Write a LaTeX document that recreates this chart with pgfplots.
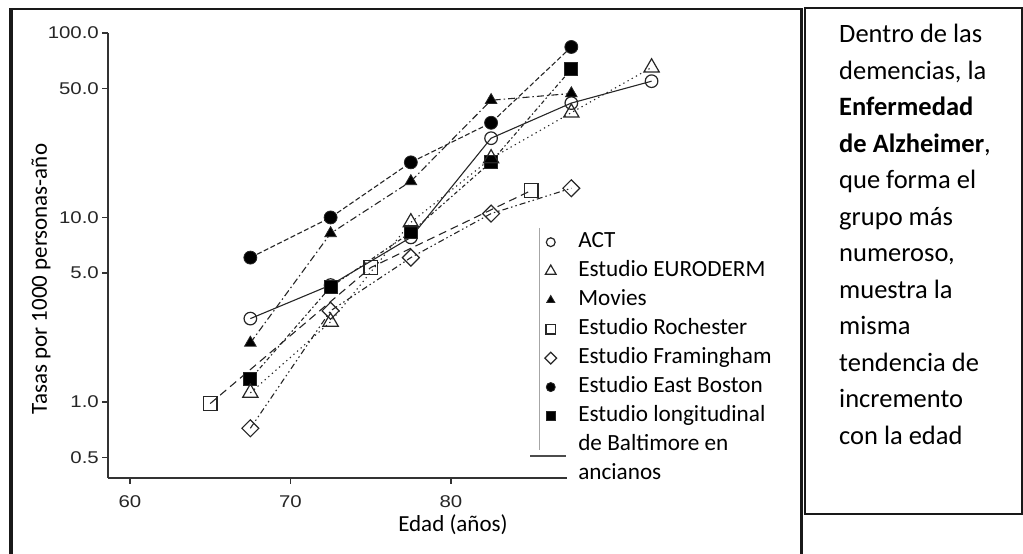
\documentclass[border=0pt]{standalone}
\usepackage{fontspec}
\setmainfont{Carlito}
\newfontfamily\tickfont{Liberation Sans}
\usepackage{graphicx}
\usepackage{pgfplots}
\pgfplotsset{compat=1.18}
\newcommand\sx[1]{\scalebox{1.2}[1]{#1}}

\tikzset{
 sACT/.style={black!85, line width=1.1bp, solid, mark=o, mark size=6.3bp, mark options={solid, fill=white, line width=1.2bp}},
 sEUR/.style={black!85, line width=1.1bp, dash pattern=on 1.3bp off 3.5bp, mark=triangle, mark size=8.8bp, mark options={solid, fill=white, line width=1.2bp}},
 sMOV/.style={black!85, line width=1.1bp, dash pattern=on 7bp off 3bp on 1.5bp off 3bp, mark=triangle*, mark size=6.7bp, mark options={solid, fill=black, line width=0.8bp}},
 sROC/.style={black!85, line width=1.1bp, dash pattern=on 8bp off 5bp, mark=square, mark size=6.8bp, mark options={solid, fill=white, line width=1.3bp}},
 sFRA/.style={black!85, line width=1.1bp, dash pattern=on 6bp off 3bp on 1.5bp off 3bp on 1.5bp off 3bp, mark=square, mark size=6bp, mark options={solid, rotate=45, fill=white, line width=1.2bp}},
 sEB/.style={black!85, line width=1.1bp, dash pattern=on 5bp off 2.5bp, mark=*, mark size=6.5bp, mark options={solid, fill=black, line width=0.8bp}},
 sBAL/.style={black!85, line width=1.1bp, dash pattern=on 1.5bp off 2.5bp on 4bp off 2.5bp, mark=square*, mark size=6.5bp, mark options={solid, fill=black, line width=0.8bp}},
}

\begin{document}
\begin{tikzpicture}
\useasboundingbox (0bp,0bp) rectangle (1023bp,554bp);
\begin{scope}
\clip (0bp,0bp) rectangle (1023bp,554bp);
\draw[line width=4bp, black!90] (10.5bp,-10bp) -- (10.5bp,546bp);
\draw[line width=2.5bp, black!90] (9bp,545bp) -- (801.5bp,545bp) -- (801.5bp,-10bp);
\draw[line width=2bp, black!90] (805bp,39.5bp) rectangle (1021.5bp,545.5bp);
\end{scope}
% gray legend border fragments
\draw[line width=1bp, black!35] (539bp,326bp) -- (539bp,104bp);
\draw[line width=1.3bp, black!70] (530bp,98bp) -- (566bp,98bp);

\begin{axis}[
  at={(108bp,76bp)}, anchor=south west,
  scale only axis, width=459bp, height=445bp,
  xmin=58.63, xmax=87.23,
  ymode=log, ymin=0.387, ymax=100,
  clip=false,
  axis lines=left,
  axis line style={-, line width=1.8bp, black!80},
  tick align=outside,
  major tick length=6bp,
  tick style={line width=1.4bp, black!80},
  yminorticks=false, xminorticks=false,
  xtick={60,70,80}, xticklabels={\sx{60},\sx{70},\sx{80}},
  ytick={0.5,1,5,10,50,100},
  yticklabels={\sx{0.5},\sx{1.0},\sx{5.0},\sx{10.0},\sx{50.0},\sx{100.0}},
  yticklabel style={font=\tickfont\fontsize{17bp}{19bp}\selectfont, text=black!85, anchor=east, inner sep=0pt, xshift=-3bp},
  xticklabel style={font=\tickfont\fontsize{17bp}{19bp}\selectfont, text=black!85, anchor=north, inner sep=0pt, yshift=-11bp},
  xlabel={Edad (años)}, ylabel={Tasas por 1000 personas-año},
  every axis x label/.style={at={(axis description cs:0.7516,-0.1213)}, anchor=base, font=\fontsize{23bp}{28bp}\selectfont},
  every axis y label/.style={at={(axis description cs:-0.1329,0.447)}, rotate=90, anchor=base, font=\fontsize{23bp}{28bp}\selectfont},
  legend style={at={(axis description cs:0.939,0.5629)}, anchor=north west, draw=none, fill=none, inner sep=0pt, row sep=0pt, column sep=0pt,
    font=\fontsize{23.2bp}{28bp}\selectfont,
    nodes={inner xsep=0pt, inner ysep=3pt, text height=17bp, text depth=6bp}},
  legend cell align=left,
  legend image code/.code={\path (0bp,0bp) (38bp,0bp); \draw[#1, every mark/.append style={scale=0.7}] plot[only marks] coordinates {(11bp,0bp)};},
]
% data (drawn in chosen order, legend built separately)
\addplot[sACT, forget plot] coordinates {(67.5,2.83) (72.5,4.3) (77.5,7.8) (82.5,26.9) (87.5,41.7) (92.5,54.8)};
\addplot[sBAL, forget plot] coordinates {(67.5,1.33) (72.5,4.2) (77.5,8.3) (82.5,20) (87.5,63.7)};
\addplot[sEUR, forget plot] coordinates {(67.5,1.12) (72.5,2.72) (77.5,9.4) (82.5,20.9) (87.5,37) (92.5,65)};
\addplot[sMOV, forget plot] coordinates {(67.5,2.09) (72.5,8.2) (77.5,15.7) (82.5,43.2) (87.5,47)};
\addplot[sROC, forget plot] coordinates {(65,0.98) (75,5.35) (85,14.0)};
\addplot[sFRA, forget plot] coordinates {(67.5,0.72) (72.5,3.12) (77.5,6.06) (82.5,10.5) (87.5,14.4)};
\addplot[sEB, forget plot] coordinates {(67.5,6.06) (72.5,10.0) (77.5,19.9) (82.5,32.6) (87.5,84)};

\addlegendimage{sACT}\addlegendentry{ACT}
\addlegendimage{sEUR}\addlegendentry{Estudio EURODERM}
\addlegendimage{sMOV}\addlegendentry{Movies}
\addlegendimage{sROC}\addlegendentry{Estudio Rochester}
\addlegendimage{sFRA}\addlegendentry{Estudio Framingham}
\addlegendimage{sEB}\addlegendentry{Estudio East Boston}
\addlegendimage{sBAL}\addlegendentry{Estudio longitudinal}
\addlegendimage{empty legend}\addlegendentry{de Baltimore en}
\addlegendimage{empty legend}\addlegendentry{ancianos}
\end{axis}

\foreach \t [count=\i from 0] in {Dentro de las, {demencias, la}, \textbf{Enfermedad}, {\textbf{de Alzheimer},}, que forma el, grupo más, {numeroso,}, muestra la, misma, tendencia de, incremento, con la edad}
  \node[anchor=base west, inner sep=0pt, font=\fontsize{26.5bp}{37bp}\selectfont] at (839bp, 554bp-43bp-\i*36.5bp) {\t};
\end{tikzpicture}
\end{document}
